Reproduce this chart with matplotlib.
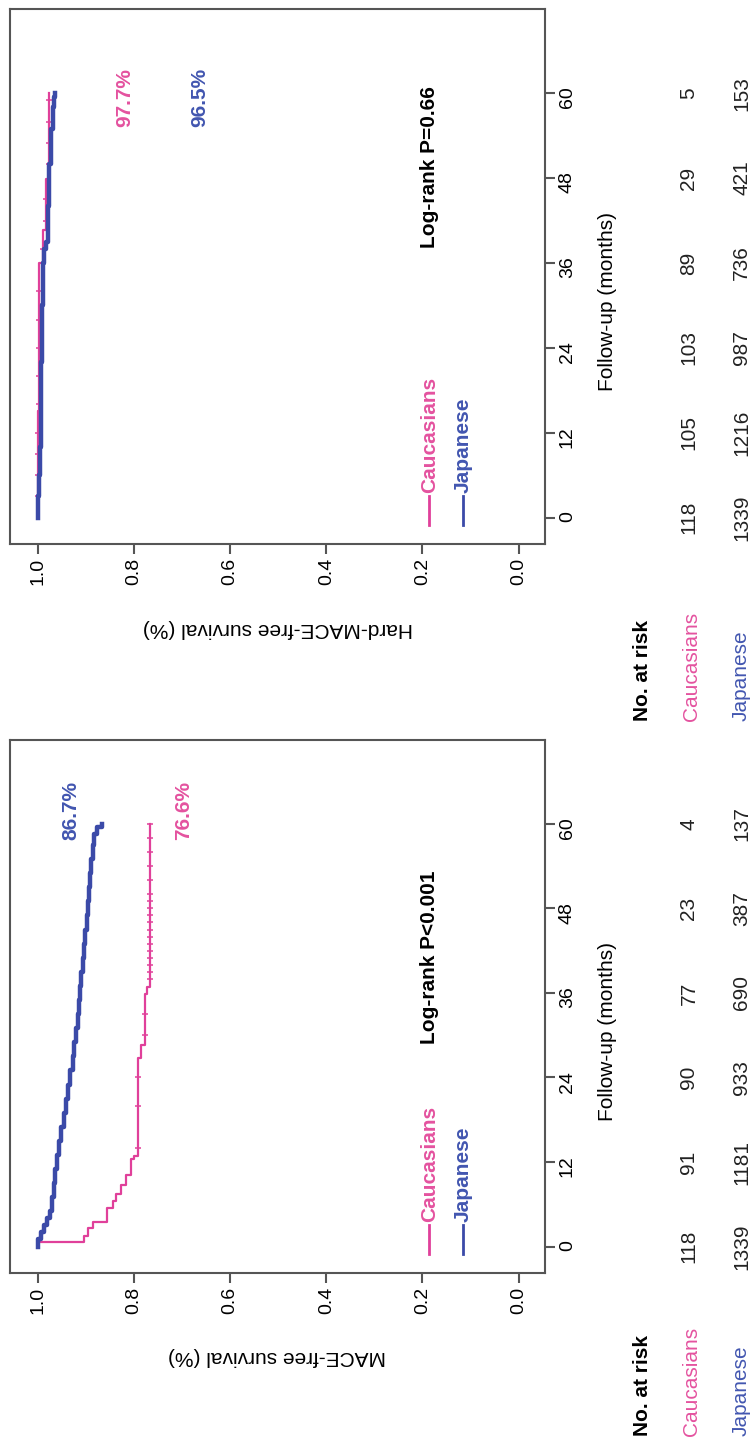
import matplotlib
matplotlib.use('Agg')
import matplotlib.pyplot as plt
from matplotlib.transforms import blended_transform_factory

plt.rcParams['font.family'] = ['Liberation Sans', 'DejaVu Sans']

# ---- data ----
risk_months = [0, 12, 24, 36, 48, 60]
surv_ticks = [0.0, 0.2, 0.4, 0.6, 0.8, 1.0]

# MACE (lower panel)
mace_jp_t = [0, 1, 2, 3, 4, 5, 7, 9, 11, 13, 15, 17, 19, 21, 23, 25, 27, 29, 31,
             33, 35, 37, 39, 41, 43, 45, 47, 49, 51, 53, 55, 57, 58.5, 59.5, 60]
mace_jp_s = [1.0, 0.993, 0.987, 0.981, 0.975, 0.971, 0.967, 0.964, 0.960, 0.956,
             0.951, 0.946, 0.941, 0.937, 0.932, 0.927, 0.924, 0.920, 0.917, 0.914,
             0.912, 0.909, 0.906, 0.903, 0.901, 0.898, 0.896, 0.893, 0.891, 0.889,
             0.886, 0.882, 0.876, 0.867, 0.867]
mace_cau_t = [0, 0.6, 1.5, 2.7, 3.5, 5.5, 6.5, 7.5, 8.8, 10.1, 12.4, 12.9, 26.8,
              28.6, 35.9, 36.9, 60]
mace_cau_s = [1.0, 0.903, 0.896, 0.886, 0.855, 0.844, 0.837, 0.827, 0.817, 0.806,
              0.799, 0.792, 0.785, 0.777, 0.772, 0.766, 0.766]
mace_cau_cens = [14, 20, 24, 30, 33, 38, 39, 40, 41, 42, 43, 44, 45, 46, 47, 48,
                 49, 50, 52, 54, 56, 58, 60]
mace_risk_cau = [118, 91, 90, 77, 23, 4]
mace_risk_jp = [1339, 1181, 933, 690, 387, 137]

# Hard MACE (upper panel)
hard_jp_t = [0, 3, 6, 10, 15, 22, 30, 36, 38, 39, 44, 50, 55, 58, 59.5, 60]
hard_jp_s = [1.0, 0.998, 0.996, 0.994, 0.993, 0.992, 0.990, 0.986, 0.982, 0.979,
             0.976, 0.972, 0.969, 0.967, 0.965, 0.965]
hard_cau_t = [0, 15, 36.0, 40.6, 47.9, 60]
hard_cau_s = [1.0, 0.998, 0.990, 0.983, 0.977, 0.977]
hard_cau_cens = [3, 6, 9, 12, 16, 20, 24, 28, 32, 38, 42, 45, 50, 53, 56, 59]
hard_risk_cau = [118, 105, 103, 89, 29, 5]
hard_risk_jp = [1339, 1216, 987, 736, 421, 153]

PINK = '#e0409a'
BLUE = '#3b4aa8'
PINK_TXT = '#e4529f'
BLUE_TXT = '#4256b0'
AXC = '#555555'


def step_at(t_list, s_list, when):
    val = s_list[0]
    for t, s in zip(t_list, s_list):
        if t <= when:
            val = s
    return val


def draw_panel(ax, jp_t, jp_s, cau_t, cau_s, cau_cens, jp_lw, ylabel, pval, p_mid,
               pct_cau, pct_jp, pct_base, risk_cau, risk_jp, rows_y):
    # curves: survival on x (reversed), months on y
    ax.plot(cau_s, cau_t, drawstyle='steps-pre', color=PINK, lw=1.6, zorder=3)
    cens_s = [step_at(cau_t, cau_s, c) for c in cau_cens]
    ax.plot(cens_s, cau_cens, ls='none', marker='_', ms=4.5, mew=1.1, color=PINK, zorder=3)
    ax.plot(jp_s, jp_t, drawstyle='steps-pre', color=BLUE, lw=jp_lw, zorder=4)

    ax.set_xlim(1.0576, -0.0547)
    ax.set_ylim(-3.75, 71.9)
    ax.set_xticks(surv_ticks)
    ax.set_xticklabels(['%.1f' % v for v in surv_ticks])
    ax.yaxis.tick_right()
    ax.set_yticks(risk_months)
    ax.set_yticklabels([str(m) for m in risk_months])
    ax.tick_params(axis='both', labelsize=14, length=7, width=1.5, color=AXC,
                   pad=3, labelrotation=90)
    for sp in ax.spines.values():
        sp.set_color(AXC)
        sp.set_linewidth(1.5)

    # in-plot annotations
    ax.text(0.186, p_mid, pval, rotation=90, fontsize=15, fontweight='bold',
            ha='center', va='center')
    ax.text(pct_cau[0], pct_base, pct_cau[1], rotation=90, fontsize=15,
            fontweight='bold', color=PINK_TXT, ha='center', va='bottom')
    ax.text(pct_jp[0], pct_base, pct_jp[1], rotation=90, fontsize=15,
            fontweight='bold', color=BLUE_TXT, ha='center', va='bottom')

    # legend drawn by hand (rotated)
    for xs, name, c, tc in [(0.186, 'Caucasians', PINK, PINK_TXT),
                            (0.116, 'Japanese', BLUE, BLUE_TXT)]:
        ax.plot([xs, xs], [-1.0, 3.1], color=c, lw=2)
        ax.text(xs, 3.5, name, rotation=90, fontsize=15, fontweight='bold',
                color=tc, ha='center', va='bottom')

    # axis titles
    ax.text(0.5, -0.157, ylabel, transform=ax.transAxes, rotation=180,
            fontsize=15, ha='center', va='center')
    tr = blended_transform_factory(fig.transFigure, ax.transData)
    ax.text(0.807, 30.5, 'Follow-up (months)', transform=tr, rotation=90,
            fontsize=15, ha='center', va='center')

    # numbers at risk
    for m, a, b in zip(risk_months, risk_cau, risk_jp):
        ax.text(0.915, m, str(a), transform=tr, rotation=90, fontsize=15,
                color='#222222', ha='center', va='center')
        ax.text(0.985, m, str(b), transform=tr, rotation=90, fontsize=15,
                color='#222222', ha='center', va='center')
    fig.text(0.853, rows_y, 'No. at risk', rotation=90, fontsize=15,
             fontweight='bold', ha='center', va='bottom')
    fig.text(0.918, rows_y, 'Caucasians', rotation=90, fontsize=15,
             color=PINK_TXT, ha='center', va='bottom')
    fig.text(0.984, rows_y, 'Japanese', rotation=90, fontsize=15,
             color=BLUE_TXT, ha='center', va='bottom')


fig = plt.figure(figsize=(7.53, 14.4), dpi=100)

ax_top = fig.add_axes([0.0133, 0.6222, 0.7104, 0.3715])
ax_bot = fig.add_axes([0.0133, 0.1160, 0.7104, 0.3701])

draw_panel(ax_top, hard_jp_t, hard_jp_s, hard_cau_t, hard_cau_s, hard_cau_cens, 3.2,
           'Hard-MACE-free survival (%)', 'Log-rank P=0.66', 49.5,
           (0.82, '97.7%'), (0.664, '96.5%'), 55.2,
           hard_risk_cau, hard_risk_jp, 0.499)
draw_panel(ax_bot, mace_jp_t, mace_jp_s, mace_cau_t, mace_cau_s, mace_cau_cens, 3.2,
           'MACE-free survival (%)', 'Log-rank P<0.001', 41.0,
           (0.696, '76.6%'), (0.931, '86.7%'), 57.7,
           mace_risk_cau, mace_risk_jp, 0.0028)

plt.savefig('out.png', dpi=100)
